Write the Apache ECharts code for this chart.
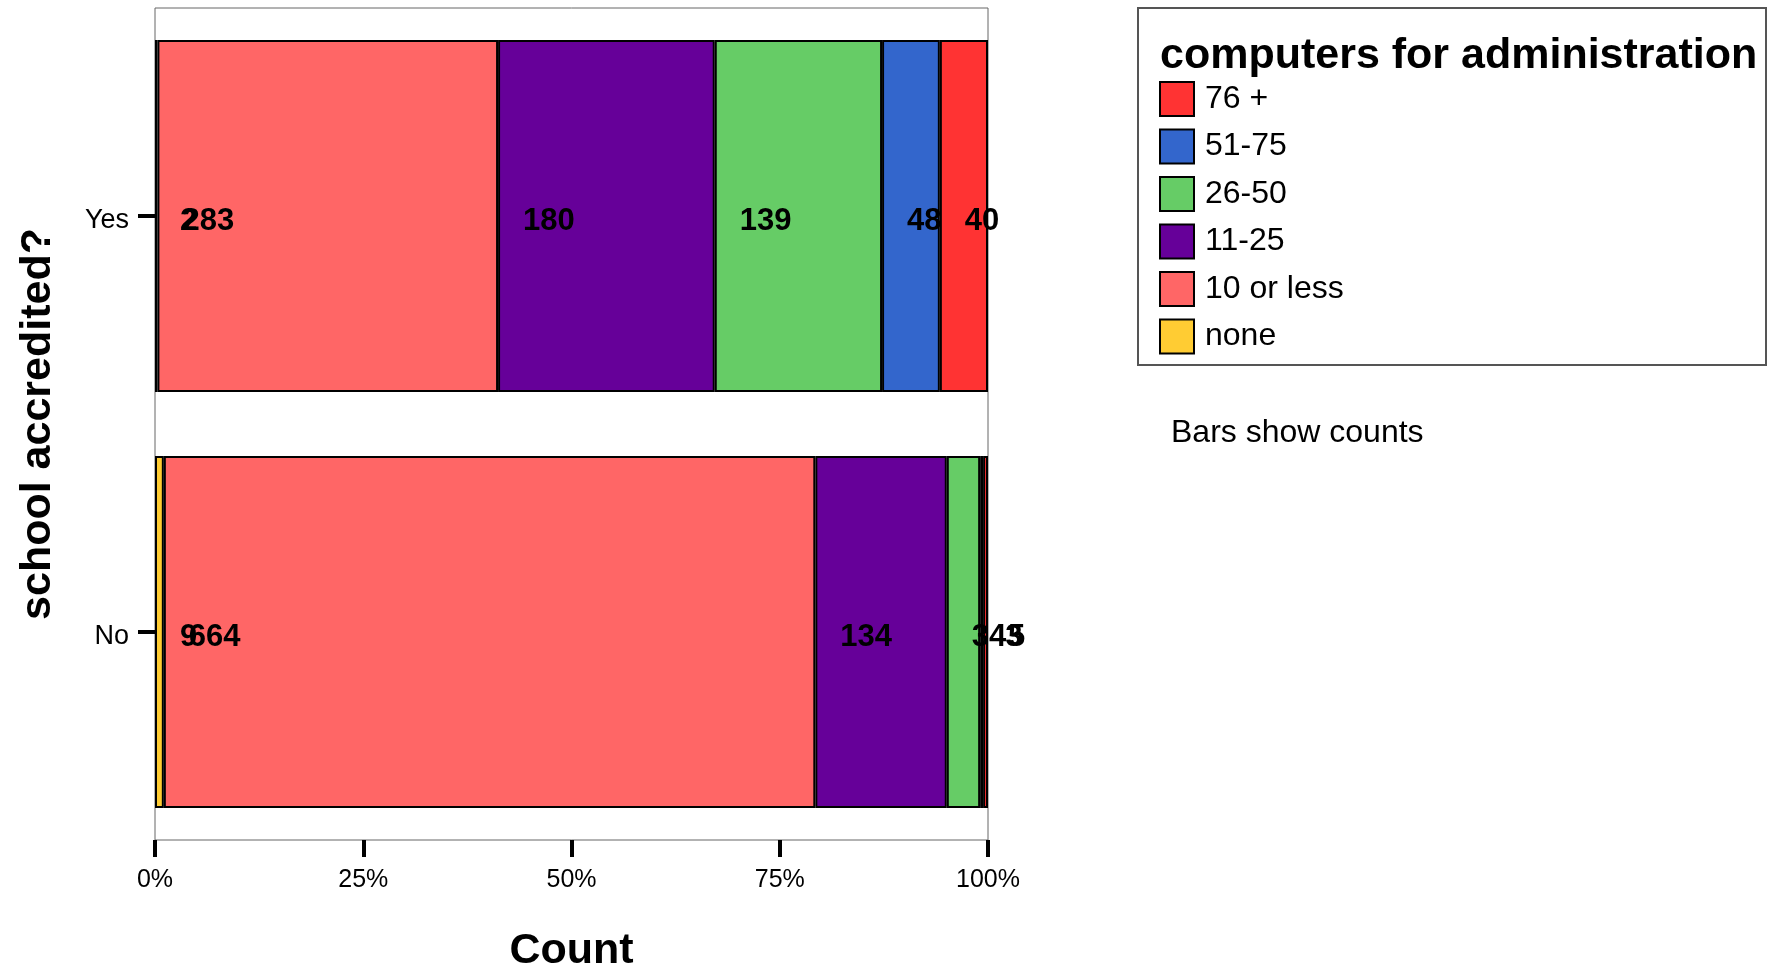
<!DOCTYPE html>
<html>
<head>
<meta charset="utf-8">
<script src="https://cdn.jsdelivr.net/npm/echarts@6/dist/echarts.min.js"></script>
<style>
html,body{margin:0;padding:0;background:#fff;}
#chart{width:1769px;height:971px;}
</style>
</head>
<body>
<div id="chart"></div>
<script>
// ---- data ----
const categories = ['No', 'Yes'];
const seriesNames = ['none', '10 or less', '11-25', '26-50', '51-75', '76 +'];
const noneCounts = [9, 2];
const tenOrLessCounts = [664, 283];
const elevenTo25Counts = [134, 180];
const twentySixTo50Counts = [34, 139];
const fiftyOneTo75Counts = [3, 48];
const seventySixPlusCounts = [5, 40];
const xTickValues = [0, 25, 50, 75, 100];
const legendOrder = ['76 +', '51-75', '26-50', '11-25', '10 or less', 'none'];
const colors = ['#FFCC33', '#FF6666', '#660099', '#66CC66', '#3366CC', '#FF3333'];

const countsBySeries = [noneCounts, tenOrLessCounts, elevenTo25Counts, twentySixTo50Counts, fiftyOneTo75Counts, seventySixPlusCounts];
const totals = categories.map((c, i) => countsBySeries.reduce((s, arr) => s + arr[i], 0));

const FONT = "'Liberation Sans', Arial, sans-serif";

const series = seriesNames.map((name, si) => ({
  name: name,
  type: 'bar',
  stack: 'total',
  barWidth: 352,
  itemStyle: { color: colors[si], borderColor: '#000', borderWidth: 2 },
  label: {
    show: true,
    position: 'insideLeft',
    distance: 25,
    offset: [0, 5],
    fontFamily: FONT,
    fontWeight: 'bold',
    fontSize: 31,
    color: '#000',
    formatter: (p) => String(countsBySeries[si][p.dataIndex])
  },
  emphasis: { disabled: true },
  data: countsBySeries[si].map((v, i) => v / totals[i] * 100)
}));

const chart = echarts.init(document.getElementById('chart'), null, { renderer: 'canvas' });
chart.setOption({
  animation: false,
  backgroundColor: '#fff',
  grid: {
    left: 155, top: 8, right: 781, bottom: 131,
    outerBoundsMode: 'none', containLabel: false,
    show: true, borderColor: '#666', borderWidth: 1, backgroundColor: 'transparent'
  },
  xAxis: {
    type: 'value', min: 0, max: 100, interval: 25,
    name: 'Count', nameLocation: 'middle', nameGap: 90,
    nameTextStyle: { fontFamily: FONT, fontWeight: 'bold', fontSize: 43, color: '#000' },
    axisLine: { show: false },
    axisTick: { show: true, length: 17, lineStyle: { color: '#000', width: 4 } },
    axisLabel: { fontFamily: FONT, fontSize: 25, color: '#000', margin: 28, formatter: '{value}%' },
    splitLine: { show: false }
  },
  yAxis: {
    type: 'category', data: categories,
    name: 'school accredited?', nameLocation: 'middle', nameGap: 95, nameRotate: 90,
    nameTextStyle: { fontFamily: FONT, fontWeight: 'bold', fontSize: 43, color: '#000' },
    axisLine: { show: false },
    axisTick: { show: true, alignWithLabel: true, length: 17, lineStyle: { color: '#000', width: 4 } },
    axisLabel: { fontFamily: FONT, fontSize: 27, color: '#000', margin: 26, verticalAlign: 'top', lineHeight: 9 },
    splitLine: { show: false }
  },
  legend: {
    orient: 'vertical',
    left: 1154, top: 76,
    data: legendOrder,
    icon: 'rect',
    itemWidth: 34, itemHeight: 34, itemGap: 11.5,
    itemStyle: { borderColor: '#000', borderWidth: 2 },
    textStyle: { fontFamily: FONT, fontSize: 32, color: '#000', padding: [0, 0, 0, 6] },
    selectedMode: false
  },
  graphic: [
    { type: 'rect', shape: { x: 1138, y: 8, width: 628, height: 357 },
      style: { fill: 'none', stroke: '#555', lineWidth: 2 }, silent: true },
    { type: 'text', x: 1160, y: 56,
      style: { text: 'computers for administration', font: "bold 43px 'Liberation Sans', Arial, sans-serif",
               fill: '#000', textAlign: 'left', textVerticalAlign: 'middle' }, silent: true },
    { type: 'text', x: 1171, y: 433,
      style: { text: 'Bars show counts', font: "32px 'Liberation Sans', Arial, sans-serif",
               fill: '#000', textAlign: 'left', textVerticalAlign: 'middle' }, silent: true }
  ],
  series: series
});
</script>
</body>
</html>
